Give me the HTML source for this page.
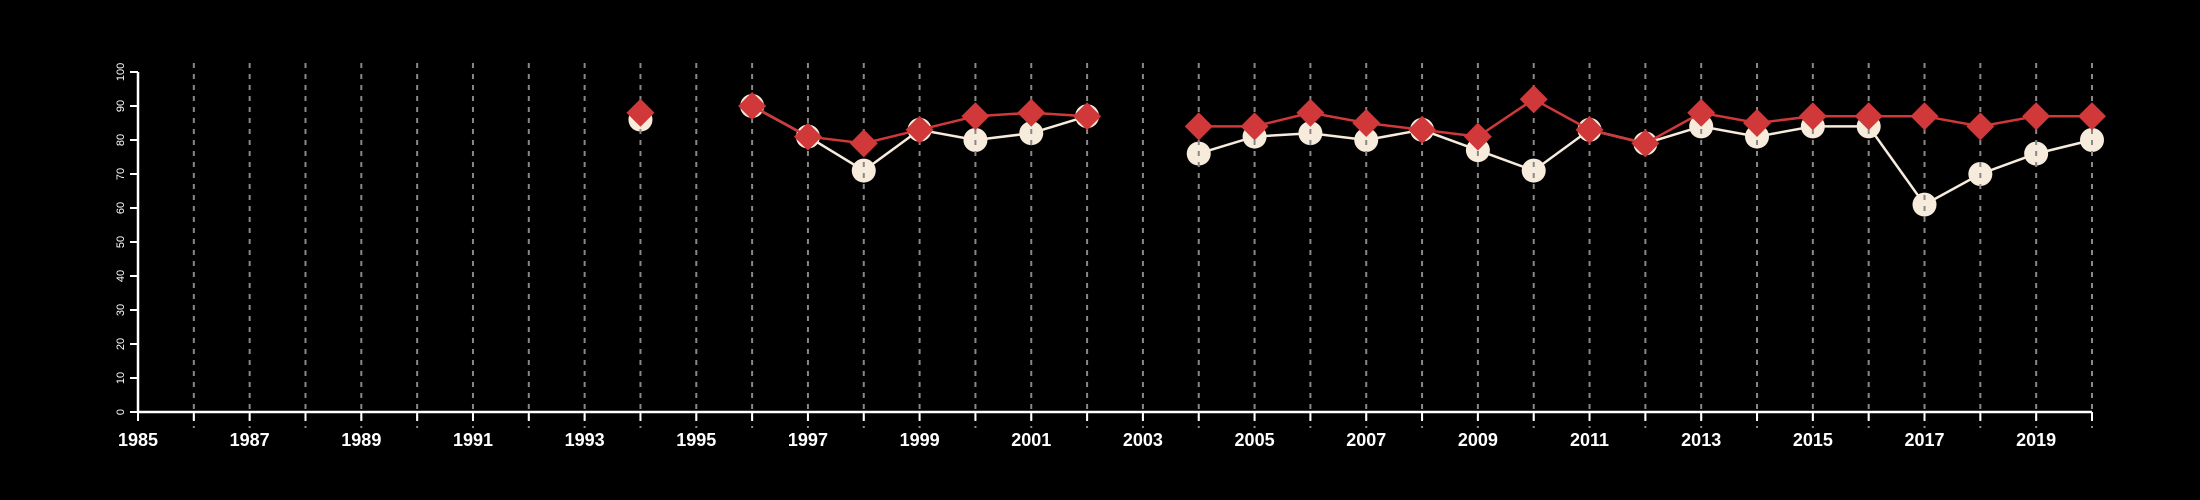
<!DOCTYPE html>
<html><head><meta charset="utf-8"><style>
html,body{margin:0;padding:0;background:#000;}
svg{display:block;}
text{font-family:"Liberation Sans",sans-serif;fill:#fff;}
</style></head><body>
<svg id="chart" width="2200" height="500" viewBox="0 0 2200 500" xmlns="http://www.w3.org/2000/svg">
<rect width="2200" height="500" fill="#000"/>
<g id="lower"></g><g id="grid"></g><g id="upper"></g><g id="axes"></g>
</svg>
<script>
const years = [1994,1996,1997,1998,1999,2000,2001,2002,2004,2005,2006,2007,2008,2009,2010,2011,2012,2013,2014,2015,2016,2017,2018,2019,2020];
const seriesWhite = [86,90,81,71,83,80,82,87,76,81,82,80,83,77,71,83,79,84,81,84,84,61,70,76,80];
const seriesRed = [88,90,81,79,83,87,88,87,84,84,88,85,83,81,92,83,79,88,85,87,87,87,84,87,87];
const yTicks = [0,10,20,30,40,50,60,70,80,90,100];
const xLabels = [1985,1987,1989,1991,1993,1995,1997,1999,2001,2003,2005,2007,2009,2011,2013,2015,2017,2019];
const xMin=1985,xMax=2020,yMin=0,yMax=100;
const X0=138,X1=2092,Y0=412,Y1=72;
const x=v=>X0+(v-xMin)/(xMax-xMin)*(X1-X0);
const y=v=>Y0-(v-yMin)/(yMax-yMin)*(Y0-Y1);
const NS='http://www.w3.org/2000/svg';
function mk(tag,parent,attrs){const e=document.createElementNS(NS,tag);for(const k in attrs)e.setAttribute(k,attrs[k]);parent.appendChild(e);return e;}
const lower=document.getElementById('lower'),grid=document.getElementById('grid'),upper=document.getElementById('upper'),axes=document.getElementById('axes');
function segs(vals){const out=[];let cur=[];for(let i=0;i<years.length;i++){if(i>0&&years[i]-years[i-1]>1){out.push(cur);cur=[];}cur.push([x(years[i]),y(vals[i])]);}out.push(cur);return out;}
segs(seriesWhite).forEach(s=>{if(s.length>1){const p=mk('polyline',lower,{points:s.map(q=>q.join(',')).join(' '),fill:'none',stroke:'#f7ecdc','stroke-width':2.5});

}});
years.forEach((yr,i)=>{const c=mk('circle',lower,{cx:x(yr),cy:y(seriesWhite[i]),r:12,fill:'#f7ecdc'});

});
for(let yr=1986;yr<=2020;yr++){const l=mk('line',grid,{x1:x(yr),x2:x(yr),y1:63,y2:428,stroke:'#888','stroke-width':2,'stroke-dasharray':'5,6'});

}
segs(seriesRed).forEach(s=>{if(s.length>1){const p=mk('polyline',upper,{points:s.map(q=>q.join(',')).join(' '),fill:'none',stroke:'#d0383a','stroke-width':2.5});

}});
years.forEach((yr,i)=>{const cx=x(yr),cy=y(seriesRed[i]),d=14;const p=mk('polygon',upper,{points:`${cx},${cy-d} ${cx+d},${cy} ${cx},${cy+d} ${cx-d},${cy}`,fill:'#d0383a'});

});
const ya=mk('line',axes,{x1:X0,x2:X0,y1:Y1,y2:Y0,stroke:'#fff','stroke-width':2.5});


yTicks.forEach(t=>{const tk=mk('line',axes,{x1:X0-8,x2:X0,y1:y(t),y2:y(t),stroke:'#fff','stroke-width':2});


const tx=mk('text',axes,{x:0,y:0,transform:`translate(${X0-14},${y(t)}) rotate(-90)`,'text-anchor':'middle','font-size':11});
tx.textContent=t;

});
const xa=mk('line',axes,{x1:X0,x2:X1,y1:Y0,y2:Y0,stroke:'#fff','stroke-width':2.5});


for(let yr=xMin;yr<=xMax;yr++){const tk=mk('line',axes,{x1:x(yr),x2:x(yr),y1:Y0,y2:Y0+9,stroke:'#fff','stroke-width':2});

}
xLabels.forEach(v=>{const tx=mk('text',axes,{x:x(v),y:446,'text-anchor':'middle','font-size':18,'font-weight':'bold'});
tx.textContent=v;

});
</script>
</body></html>
